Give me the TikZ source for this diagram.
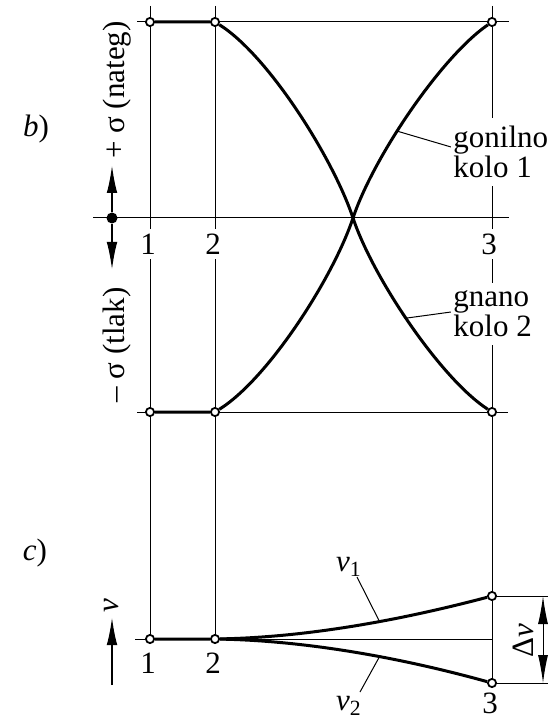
\documentclass[tikz,border=0pt]{standalone}
\usepackage{fontspec}
\setmainfont{Liberation Serif}
\usetikzlibrary{arrows.meta, backgrounds}

\begin{document}
\begin{tikzpicture}[
    x=0.5pt, y=-0.5pt,
    % stili za crte in oznake
    tanka/.style={line width=0.5pt},
    debela/.style={line width=1.5pt},
    krozec/.style={circle, draw=black, line width=0.9pt, fill=white, inner sep=0pt, minimum size=4.1pt},
    pika/.style={circle, fill=black, inner sep=0pt, minimum size=5.5pt},
    tekst/.style={font=\fontsize{15.5}{15}\selectfont, inner sep=2.5pt},
    napis/.style={tekst, fill=white},
    opis/.style={napis, align=left, inner xsep=1pt, inner ysep=4pt},
    puscica/.style={line width=1pt, -{Latex[length=14pt, width=5.3pt]}},
    kota/.style={line width=0.5pt, {Latex[length=14pt, width=5pt]}-{Latex[length=14pt, width=5pt]}}
]
\useasboundingbox (0,0) rectangle (557,721);

% ==========================
% KOORDINATE
% ==========================
\def\Xa{150}
\def\Xb{215}
\def\Xc{492}
\def\Ytop{22}
\def\Yax{218}
\def\Ybot{412}
\def\Yv{639}

% ==========================
% TOCKE (krozci)
% ==========================
% b) napetosti
\node[krozec] (b1t) at (\Xa,\Ytop) {};
\node[krozec] (b2t) at (\Xb,\Ytop) {};
\node[krozec] (b3t) at (\Xc,\Ytop) {};
\node[krozec] (b1b) at (\Xa,\Ybot) {};
\node[krozec] (b2b) at (\Xb,\Ybot) {};
\node[krozec] (b3b) at (\Xc,\Ybot) {};
\coordinate (x0) at (353,\Yax);
% c) hitrosti
\node[krozec] (c1) at (\Xa,\Yv) {};
\node[krozec] (c2) at (\Xb,\Yv) {};
\node[krozec] (c3u) at (\Xc,596) {};
\node[krozec] (c3d) at (\Xc,683) {};

% ==========================
% OZNAKE
% ==========================
\node[tekst] (lb) at (36,129) {\textit{b})};
\node[tekst] (lc) at (35,553) {\textit{c})};
\node[tekst, rotate=90] (sp) at (117,90) {+ σ (nateg)};
\node[tekst, rotate=90] (sm) at (117,345) {– σ (tlak)};

\node[napis] (n1b) at (148,244) {1};
\node[napis] (n2b) at (213,244) {2};
\node[napis] (n3b) at (489,244) {3};
\node[opis, anchor=west] (k1) at (451,152) {gonilno\\kolo 1};
\node[opis, anchor=west] (k2) at (451,314) {gnano\\kolo 2};

\node[tekst] (n1c) at (148,663) {1};
\node[tekst] (n2c) at (213,663) {2};
\node[tekst] (n3c) at (490,703) {3};
\node[tekst] (w1l) at (349,567) {\textit{v}\textsubscript{1}};
\node[tekst] (w2l) at (349,706) {\textit{v}\textsubscript{2}};
\node[tekst, rotate=90] (vl) at (112,606) {\textit{v}};
\node[tekst, rotate=90, inner sep=1pt] (dvl) at (523,641) {Δ\textit{v}};

% ==========================
% PUSCICE
% ==========================
\node[pika] (o) at (112,\Yax) {};
\coordinate (sgor) at (112,165);
\coordinate (sdol) at (112,270);
\draw[puscica] (o) -- (sgor);
\draw[puscica] (o) -- (sdol);

\coordinate (vs) at (112,685);
\coordinate (ve) at (112,617);
\draw[puscica] (vs) -- (ve);

% kota Delta v
\coordinate (e1) at (548,596);
\coordinate (e2) at (548,683);
\coordinate (d1) at (543,596);
\coordinate (d2) at (543,683);
\draw[tanka] (c3u) -- (e1);
\draw[tanka] (c3d) -- (e2);
\draw[kota] (d1) -- (d2);

% ==========================
% MREZA IN KRIVULJE (v ozadju)
% ==========================
\begin{scope}[on background layer]
    % navpicnice
    \draw[tanka] (\Xa,6) -- (c1);
    \draw[tanka] (\Xb,6) -- (c2);
    \draw[tanka] (\Xc,6) -- (c3d);
    % vodoravnice
    \draw[tanka] (137,\Ytop) -- (509,\Ytop);
    \draw[tanka] (93,\Yax) -- (509,\Yax);
    \draw[tanka] (137,\Ybot) -- (508,\Ybot);
    \draw[tanka] (135,\Yv) -- (\Xc,\Yv);

    % gnano kolo 2 (pada) in gonilno kolo 1 (raste)
    \draw[debela] (b1t) -- (b2t) .. controls (268,55) and (333,158) .. (x0)
        .. controls (373,278) and (441,379) .. (b3b) coordinate[pos=0.47] (g2);
    \draw[debela] (b1b) -- (b2b) .. controls (268,379) and (333,278) .. (x0)
        .. controls (373,158) and (441,57) .. (b3t) coordinate[pos=0.41] (g1);

    % hitrosti v1, v2
    \draw[debela] (c1) -- (c2) .. controls (320,637) and (420,615) .. (c3u) coordinate[pos=0.55] (w1);
    \draw[debela] (c2) .. controls (320,641) and (420,663) .. (c3d) coordinate[pos=0.55] (w2);

    % opisne crte
    \coordinate (w1e) at (357,577);
    \coordinate (w2e) at (360,692);
    \draw[tanka] (g1) -- ([yshift=2.5pt]k1.west);
    \draw[tanka] (g2) -- ([yshift=1pt]k2.west);
    \draw[tanka] (w1) -- (w1e);
    \draw[tanka] (w2) -- (w2e);
\end{scope}

\end{tikzpicture}
\end{document}
